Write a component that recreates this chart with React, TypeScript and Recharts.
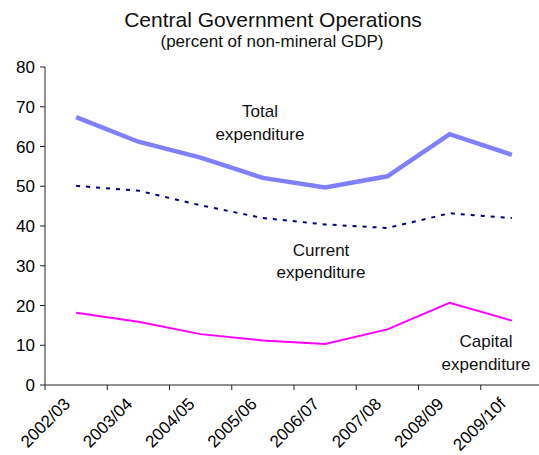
import { LineChart, Line, XAxis, YAxis } from 'recharts';

const years = ['2002/03', '2003/04', '2004/05', '2005/06', '2006/07', '2007/08', '2008/09', '2009/10f'];
const totalExp = [67.4, 61.2, 57.2, 52.1, 49.7, 52.5, 63.1, 57.9];
const currentExp = [50.1, 48.9, 45.2, 42.0, 40.4, 39.5, 43.2, 42.0];
const capitalExp = [18.2, 15.9, 12.8, 11.2, 10.3, 14.0, 20.7, 16.2];
const yTicks = [0, 10, 20, 30, 40, 50, 60, 70, 80];

const data = years.map((year, i) => ({
  year,
  total: totalExp[i],
  current: currentExp[i],
  capital: capitalExp[i],
}));

const W = 543;
const H = 455;
const AXIS_W = 45;
const FONT = '"Liberation Sans", Arial, sans-serif';
const halfBand = (W - AXIS_W) / years.length / 2;

function YearTick(props: any) {
  const { x, y, payload } = props;
  const top = y - 5;
  const ax = x - 5;
  const ay = y + 15;
  return (
    <g>
      <line x1={x - halfBand} y1={top} x2={x - halfBand} y2={top + 5} stroke="#222" />
      <text
        x={ax}
        y={ay}
        transform={`rotate(-45, ${ax}, ${ay})`}
        textAnchor="end"
        fontSize={17}
        fontFamily={FONT}
        fill="#000"
      >
        {payload.value}
      </text>
    </g>
  );
}

export default function App() {
  const txt = { fontFamily: FONT, fill: '#111', textAnchor: 'middle' as const };
  return (
    <div style={{ position: 'absolute', left: 0, top: 0, width: 539, height: H, overflow: 'hidden', background: '#fff' }}>
      <LineChart width={W} height={H} data={data} margin={{ top: 67, right: 0, bottom: 0, left: 0 }}>
        <XAxis
          dataKey="year"
          scale="band"
          height={70}
          tickLine={false}
          tickSize={5}
          tickMargin={0}
          axisLine={{ stroke: '#222' }}
          tick={<YearTick />}
          interval={0}
        />
        <YAxis
          width={AXIS_W}
          domain={[0, 80]}
          ticks={yTicks}
          interval={0}
          tickSize={5}
          tickMargin={5}
          axisLine={{ stroke: '#222' }}
          tickLine={{ stroke: '#222' }}
          tick={{ fontSize: 17, fontFamily: FONT, fill: '#000' }}
        />
        <Line dataKey="total" stroke="#8080ff" strokeWidth={4.5} dot={false} isAnimationActive={false} />
        <Line
          dataKey="current"
          stroke="#000080"
          strokeWidth={2}
          strokeDasharray="4 6"
          dot={false}
          isAnimationActive={false}
        />
        <Line dataKey="capital" stroke="#ff00ff" strokeWidth={2} dot={false} isAnimationActive={false} />
      </LineChart>
      <svg width={539} height={H} style={{ position: 'absolute', left: 0, top: 0, pointerEvents: 'none' }}>
        <text x={273} y={27} fontSize={21} {...txt}>Central Government Operations</text>
        <text x={272} y={47} fontSize={17} {...txt}>(percent of non-mineral GDP)</text>
        <text x={260} y={117} fontSize={17} {...txt}>Total</text>
        <text x={260} y={140} fontSize={17} {...txt}>expenditure</text>
        <text x={321} y={256} fontSize={17} {...txt}>Current</text>
        <text x={321} y={278} fontSize={17} {...txt}>expenditure</text>
        <text x={486} y={347} fontSize={17} {...txt}>Capital</text>
        <text x={486} y={370} fontSize={17} {...txt}>expenditure</text>
      </svg>
    </div>
  );
}
